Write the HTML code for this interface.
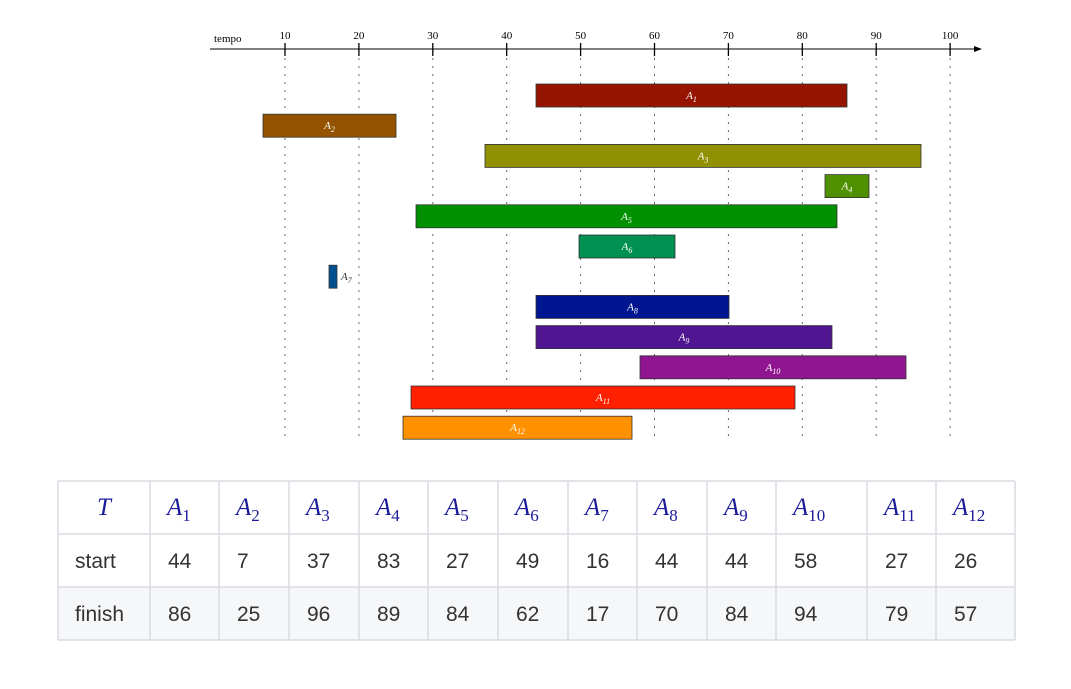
<!DOCTYPE html>
<html><head><meta charset="utf-8"><style>
body{margin:0;background:#fff;width:1071px;height:684px;overflow:hidden}
</style></head><body>
<svg width="1071" height="684" xmlns="http://www.w3.org/2000/svg">
</svg>
<script>
const svg=document.querySelector('svg');const NS='http://www.w3.org/2000/svg';
function el(n,a,t){const e=document.createElementNS(NS,n);for(const k in a)e.setAttribute(k,a[k]);if(t!==undefined)e.innerHTML=t;svg.appendChild(e);return e;}
const X=t=>285+(t-10)*7.39;
el('line',{x1:210,y1:49,x2:976,y2:49,stroke:'#000','stroke-width':1});
el('polygon',{points:'982,49 974,46 974,52',fill:'#000'});
el('text',{x:214,y:42,'font-family':'Liberation Serif, serif','font-size':11},'tempo');
for(let t=10;t<=100;t+=10){const x=X(t);
el('line',{x1:x,y1:43,x2:x,y2:56,stroke:'#000','stroke-width':1.3});
el('line',{x1:x,y1:58,x2:x,y2:442,stroke:'#666','stroke-width':1,'stroke-dasharray':'2,6'});
el('text',{x:x,y:39,'text-anchor':'middle','font-family':'Liberation Serif, serif','font-size':11},t);}
const s=[44,7,37,83,27,49,16,44,44,58,27,26],f=[86,25,96,89,84,62,17,70,84,94,79,57];
const bx=[[536,847],[263,396],[485,921],[825,869],[416,837],[579,675],[329,337],[536,729],[536,832],[640,906],[411,795],[403,632]];
const c=['#951500','#955300','#909000','#4f9000','#009000','#009050','#005090','#001590','#501590','#901590','#ff2000','#ff9000'];
for(let i=0;i<12;i++){const y=84+30.2*i,x1=bx[i][0],x2=bx[i][1];
el('rect',{x:x1,y:y,width:x2-x1,height:23,fill:c[i],stroke:'#333','stroke-width':0.8});
let lx=(x1+x2)/2,col='#fff',anc='middle';if(i==6){lx=x2+4;col='#333';anc='start';}
el('text',{x:lx,y:y+15,'text-anchor':anc,fill:col,'font-family':'Liberation Serif, serif','font-size':11,'font-style':'italic'},'A<tspan font-size="8" dy="3">'+(i+1)+'</tspan>');}
const B=[58,150,219,289,359,428,498,568,637,707,776,867,936,1015];
el('rect',{x:58,y:587,width:957,height:53,fill:'#f6f7f9'});
[481,534,587,640].forEach(y=>el('line',{x1:58,y1:y,x2:1015,y2:y,stroke:'#d8dce3','stroke-width':1.5}));
B.forEach(x=>el('line',{x1:x,y1:481,x2:x,y2:640,stroke:'#d8dce3','stroke-width':1.5}));
el('text',{x:104,y:515,'text-anchor':'middle',fill:'#1a1a9a','font-family':'Liberation Serif, serif','font-size':25,'font-style':'italic'},'T');
for(let i=0;i<12;i++){const x=B[i+1]+17;
el('text',{x:x,y:515,fill:'#1a1a9a','font-family':'Liberation Serif, serif','font-size':25,'font-style':'italic'},'A<tspan font-style="normal" font-size="17" dy="6">'+(i+1)+'</tspan>');
el('text',{x:x+1,y:568,fill:'#333','font-family':'Liberation Sans, sans-serif','font-size':21},s[i]);
el('text',{x:x+1,y:621,fill:'#333','font-family':'Liberation Sans, sans-serif','font-size':21},f[i]);}
el('text',{x:75,y:568,fill:'#333','font-family':'Liberation Sans, sans-serif','font-size':21},'start');
el('text',{x:75,y:621,fill:'#333','font-family':'Liberation Sans, sans-serif','font-size':21},'finish');
</script>
</body></html>
